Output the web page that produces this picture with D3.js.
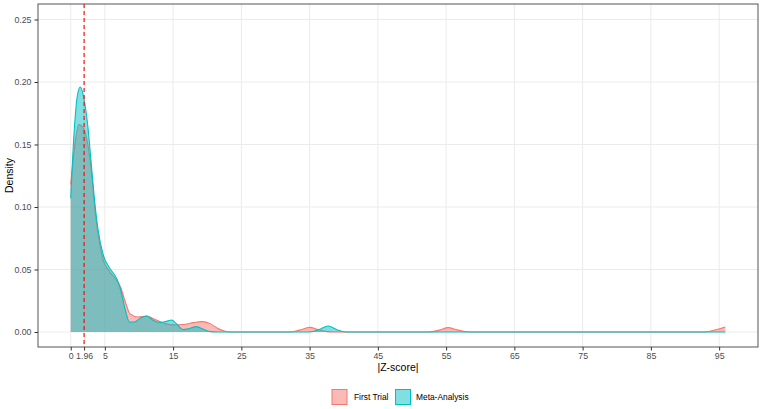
<!DOCTYPE html>
<html>
<head>
<meta charset="utf-8">
<script src="https://cdn.jsdelivr.net/npm/d3@7"></script>
<style>
  body { margin: 0; background: #fff; }
  svg { font-family: "Liberation Sans", Arial, sans-serif; }
</style>
</head>
<body>
<div id="chart"></div>
<script>
  // |Z-score| grid positions and density
  const firstTrialX = [0, 0.5, 1.17, 1.96, 2.5, 3.0, 3.6, 4.2, 4.8, 5.6, 6.5, 7.3, 8.0, 8.7, 9.9, 11.1, 12.0, 13.1, 14.0, 15.0, 16.5, 18.0, 19.2, 20.5, 21.5, 22.5, 23.5, 32, 33.5, 35.0, 36.3, 37.5, 38.5, 52.5, 54, 55.3, 56.6, 58, 59, 93, 94.5, 95.9];
  const firstTrialY = [0.118, 0.145, 0.166, 0.162, 0.150, 0.130, 0.095, 0.072, 0.057, 0.049, 0.043, 0.036, 0.024, 0.0145, 0.012, 0.0128, 0.011, 0.0083, 0.0065, 0.0057, 0.006, 0.0075, 0.0083, 0.0065, 0.003, 0.0008, 0, 0, 0.0015, 0.0037, 0.0018, 0.0003, 0, 0, 0.0015, 0.0035, 0.0017, 0.0002, 0, 0, 0.0018, 0.004];

  const metaX = [0, 0.5, 1.0, 1.41, 1.96, 2.5, 3.0, 3.5, 4.0, 4.8, 5.6, 6.8, 7.3, 8.0, 8.6, 9.3, 10.2, 11.1, 12.2, 13.1, 14.0, 14.8, 15.6, 16.4, 17.2, 18.4, 19.5, 20.5, 21.5, 35, 36.5, 37.7, 39, 40.3, 95.9];
  const metaY = [0.107, 0.160, 0.190, 0.196, 0.186, 0.165, 0.135, 0.105, 0.082, 0.061, 0.052, 0.042, 0.034, 0.0176, 0.008, 0.008, 0.011, 0.0128, 0.009, 0.0076, 0.0085, 0.0096, 0.006, 0.002, 0.0025, 0.0043, 0.002, 0.0003, 0, 0, 0.0022, 0.0048, 0.0018, 0, 0];

  const seriesNames = ['First Trial', 'Meta-Analysis'];
  const seriesColors = ['#F8766D', '#00BFC4'];

  const xTicks = [0, 1.96, 5, 15, 25, 35, 45, 55, 65, 75, 85, 95];
  const yTicks = [0, 0.05, 0.10, 0.15, 0.20, 0.25];
  const cutoff = 1.96;

  const width = 762;
  const height = 409;
  const panel = { left: 38, top: 4, right: 758, bottom: 347 };

  const series = [
    firstTrialX.map((x, i) => ({ x, y: firstTrialY[i] })),
    metaX.map((x, i) => ({ x, y: metaY[i] })),
  ];

  const xMax = 95.9;
  const xPad = xMax * 0.05;
  const x = d3.scaleLinear()
    .domain([-xPad, xMax + xPad])
    .range([panel.left, panel.right]);
  const y = d3.scaleLinear()
    .domain([-0.012, 0.2624])
    .range([panel.bottom, panel.top]);

  const svg = d3.select('#chart').append('svg')
    .attr('width', width)
    .attr('height', height);

  // grid
  svg.append('g')
    .selectAll('line')
    .data(yTicks)
    .join('line')
    .attr('x1', panel.left).attr('x2', panel.right)
    .attr('y1', (d) => y(d)).attr('y2', (d) => y(d))
    .attr('stroke', '#EBEBEB')
    .attr('stroke-width', 1);
  svg.append('g')
    .selectAll('line')
    .data(xTicks)
    .join('line')
    .attr('x1', (d) => x(d)).attr('x2', (d) => x(d))
    .attr('y1', panel.top).attr('y2', panel.bottom)
    .attr('stroke', '#EBEBEB')
    .attr('stroke-width', 1);

  const area = d3.area()
    .x((d) => x(d.x))
    .y0(y(0))
    .y1((d) => y(d.y))
    .curve(d3.curveMonotoneX);
  const line = d3.line()
    .x((d) => x(d.x))
    .y((d) => y(d.y))
    .curve(d3.curveMonotoneX);

  series.forEach((s, i) => {
    svg.append('path')
      .datum(s)
      .attr('d', area)
      .attr('fill', seriesColors[i])
      .attr('fill-opacity', 0.5);
    svg.append('path')
      .datum(s)
      .attr('d', line)
      .attr('fill', 'none')
      .attr('stroke', seriesColors[i])
      .attr('stroke-width', 1.1);
  });

  // 1.96 cutoff
  svg.append('line')
    .attr('x1', x(cutoff)).attr('x2', x(cutoff))
    .attr('y1', panel.top).attr('y2', panel.bottom)
    .attr('stroke', '#FF0000')
    .attr('stroke-width', 1.1)
    .attr('stroke-dasharray', '4,3');

  // panel border
  svg.append('rect')
    .attr('x', panel.left).attr('y', panel.top)
    .attr('width', panel.right - panel.left)
    .attr('height', panel.bottom - panel.top)
    .attr('fill', 'none')
    .attr('stroke', '#555')
    .attr('stroke-width', 1);

  // axes
  const xAxis = svg.append('g')
    .attr('transform', `translate(0,${panel.bottom})`)
    .call(d3.axisBottom(x).tickValues(xTicks).tickFormat((d) => String(d)).tickSize(3.5).tickPadding(2));
  const yAxis = svg.append('g')
    .attr('transform', `translate(${panel.left},0)`)
    .call(d3.axisLeft(y).tickValues(yTicks).tickFormat(d3.format('.2f')).tickSize(3.5).tickPadding(3));
  [xAxis, yAxis].forEach((g) => {
    g.select('.domain').remove();
    g.selectAll('.tick line').attr('stroke', '#333');
    g.selectAll('.tick text')
      .attr('fill', '#4D4D4D')
      .style('font-size', '8.8px')
      .style('font-family', '"Liberation Sans", Arial, sans-serif');
  });

  // titles
  svg.append('text')
    .attr('x', (panel.left + panel.right) / 2)
    .attr('y', 371)
    .attr('text-anchor', 'middle')
    .style('font-size', '10.5px')
    .text('|Z-score|');
  svg.append('text')
    .attr('transform', `translate(13,${(panel.top + panel.bottom) / 2}) rotate(-90)`)
    .attr('text-anchor', 'middle')
    .style('font-size', '10.5px')
    .text('Density');

  // legend
  const legendX = [331.5, 395];
  const legend = svg.append('g')
    .selectAll('g')
    .data(seriesNames)
    .join('g')
    .attr('transform', (d, i) => `translate(${legendX[i]},389)`);
  legend.append('rect')
    .attr('x', 0.5).attr('y', 0.5)
    .attr('width', 15).attr('height', 15)
    .attr('fill', (d, i) => seriesColors[i])
    .attr('fill-opacity', 0.5)
    .attr('stroke', (d, i) => seriesColors[i])
    .attr('stroke-width', 1);
  legend.append('text')
    .attr('x', (d, i) => (i === 0 ? 22.5 : 21))
    .attr('y', 11)
    .style('font-size', '8.4px')
    .text((d) => d);
</script>
</body>
</html>
